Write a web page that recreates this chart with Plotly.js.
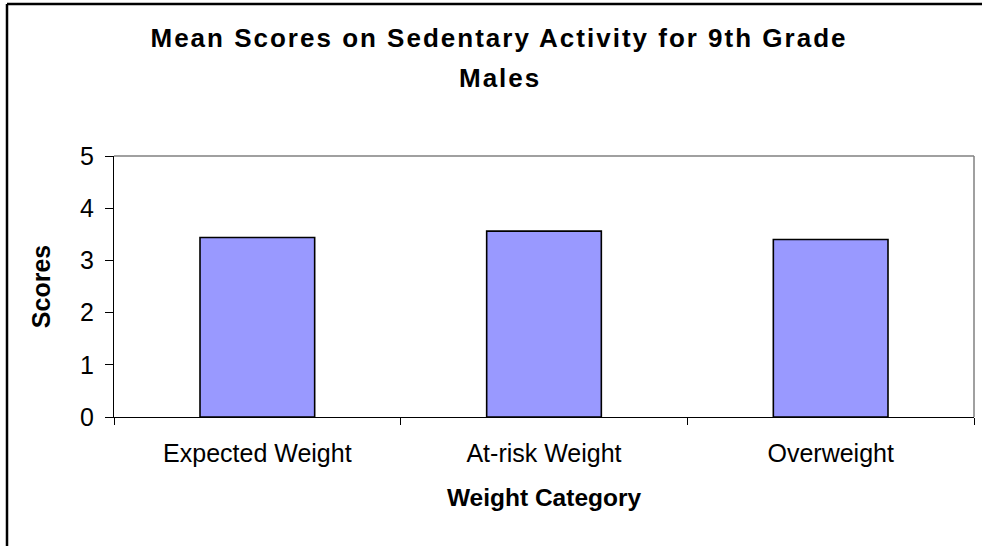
<!DOCTYPE html>
<html>
<head>
<meta charset="utf-8">
<script src="https://cdn.plot.ly/plotly-3.0.1.min.js"></script>
<style>
html,body{margin:0;padding:0;background:#fff;}
#chart{width:982px;height:546px;}
.gtitle, .annotation-text{letter-spacing:2px;}
</style>
</head>
<body>
<div id="chart"></div>
<script>
const categories = ["Expected Weight", "At-risk Weight", "Overweight"];
const scores = [3.44, 3.56, 3.40];
const yTicks = [0, 1, 2, 3, 4, 5];
const titleLines = ["Mean Scores on Sedentary Activity for 9th Grade", "Males"];

const FONT = "Liberation Sans, Arial, Helvetica, sans-serif";

const trace = {
  type: "bar",
  x: categories,
  y: scores,
  width: 0.4,
  marker: {color: "#9999FF", line: {color: "#000000", width: 1.6}},
  hoverinfo: "none"
};

const layout = {
  width: 982,
  height: 546,
  margin: {l: 114, r: 8, t: 156, b: 129},
  paper_bgcolor: "#ffffff",
  plot_bgcolor: "#ffffff",
  showlegend: false,
  font: {family: FONT, color: "#000000"},
  title: {
    text: titleLines[0],
    font: {family: FONT, size: 26, weight: "bold", color: "#000000"},
    x: 499/982, xref: "container", xanchor: "center",
    y: 1 - 38/546, yref: "container", yanchor: "middle"
  },
  annotations: [{
    text: titleLines[1],
    xref: "paper", yref: "paper",
    x: (500-114)/860, y: (417-78)/261,
    xanchor: "center", yanchor: "middle",
    showarrow: false,
    font: {family: FONT, size: 26, weight: "bold", color: "#000000"}
  }],
  xaxis: {
    type: "category",
    tickson: "boundaries",
    ticks: "outside", ticklen: 7, tickcolor: "#000000", tickwidth: 1,
    showline: true, linecolor: "#000000", linewidth: 1,
    showgrid: false, zeroline: false,
    tickfont: {family: FONT, size: 25, color: "#000000"},
    ticklabelstandoff: 14,
    title: {text: "Weight Category", font: {family: FONT, size: 24.5, weight: "bold", color: "#000000"}, standoff: 22},
    fixedrange: true
  },
  yaxis: {
    range: [0, 5],
    tickmode: "array", tickvals: yTicks, ticktext: yTicks.map(String),
    ticks: "outside", ticklen: 8, tickcolor: "#000000", tickwidth: 1,
    showline: true, linecolor: "#000000", linewidth: 1,
    showgrid: false, zeroline: false,
    tickfont: {family: FONT, size: 25, color: "#000000"},
    ticklabelstandoff: 6,
    title: {text: "Scores", font: {family: FONT, size: 25, weight: "bold", color: "#000000"}, standoff: 22},
    fixedrange: true
  },
  bargap: 0.6,
  shapes: [
    {type: "line", xref: "paper", yref: "paper", x0: 0, x1: 1, y0: 1, y1: 1, line: {color: "#808080", width: 1.5}},
    {type: "line", xref: "paper", yref: "paper", x0: 1, x1: 1, y0: 0, y1: 1, line: {color: "#808080", width: 1.5}},
    {type: "line", xref: "paper", yref: "paper", x0: (7-114)/860, x1: (7-114)/860, y0: (417-4)/261, y1: (417-560)/261, line: {color: "#000000", width: 2.5}},
    {type: "line", xref: "paper", yref: "paper", x0: (7-114)/860, x1: (1000-114)/860, y0: (417-4)/261, y1: (417-4)/261, line: {color: "#000000", width: 2.5}}
  ]
};

Plotly.newPlot("chart", [trace], layout, {displayModeBar: false, staticPlot: true});
</script>
</body>
</html>
